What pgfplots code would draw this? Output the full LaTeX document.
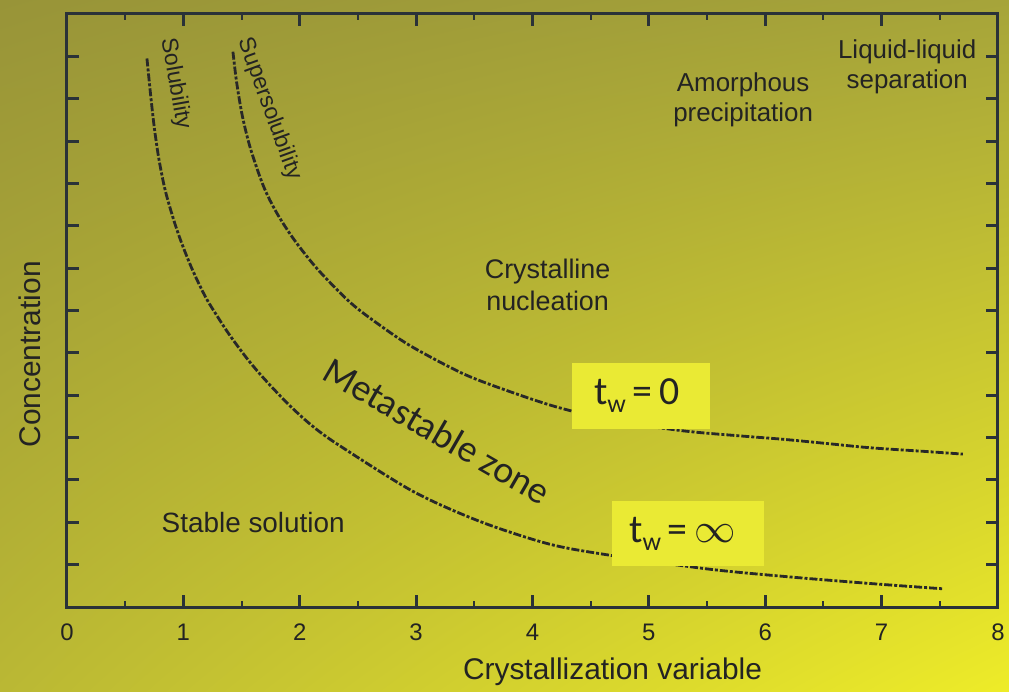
\documentclass[border=0pt]{standalone}
\usepackage{pgfplots}
\pgfplotsset{compat=1.18}
\usetikzlibrary{shadings}
\usepackage{fontspec}
\setmainfont{Liberation Sans}
\newfontfamily\carlito{Carlito}
\definecolor{axc}{RGB}{42,50,56}
\definecolor{curve}{RGB}{40,40,40}
\definecolor{txt}{RGB}{35,35,35}
\definecolor{boxy}{RGB}{234,234,52}
\definecolor{bgul}{RGB}{152,148,56}
\definecolor{bgur}{RGB}{166,164,58}
\definecolor{bgll}{RGB}{186,184,52}
\definecolor{bglr}{RGB}{238,236,40}
\begin{document}
\begin{tikzpicture}
\shade[upper left=bgul, upper right=bgur, lower left=bgll, lower right=bglr] (-33.5bp,-42.5bp) rectangle (471bp,303.5bp);
\begin{axis}[
  at={(0,0)}, anchor=south west,
  scale only axis, width=465.5bp, height=296.5bp,
  xmin=0, xmax=8, ymin=0, ymax=14,
  xtick={0,...,8}, minor xtick={0.5,1.5,...,7.5},
  ytick={1,...,13}, yticklabels={},
  axis line style={axc, line width=1.5bp},
  major tick style={axc, line width=1.5bp},
  minor tick style={axc, line width=1bp},
  major tick length=6bp, minor tick length=3bp,
  tick label style={font=\fontsize{12}{14}\selectfont, text=txt},
  xticklabel style={yshift=-5bp},
  /pgf/number format/assume math mode=true,
  xlabel={Crystallization variable}, ylabel={Concentration},
  label style={font=\fontsize{15}{18}\selectfont, text=txt},
  xlabel style={at={(axis description cs:0.586,-0.11)}, anchor=center},
  ylabel style={at={(axis description cs:-0.0397,0.426)}, anchor=center},
  clip=false,
]
% Solubility curve
\addplot[curve, line width=1.4bp, dash pattern=on 4bp off 1bp on 1.5bp off 1bp, smooth] coordinates {
(0.687,12.95) (0.722,12.00) (0.752,11.28) (0.790,10.57) (0.842,9.86) (0.911,9.19)
(0.984,8.60) (1.078,7.96) (1.190,7.32) (1.297,6.84) (1.400,6.41) (1.546,5.87)
(1.684,5.42) (1.890,4.82) (2.088,4.32) (2.320,3.85) (2.973,2.73) (3.548,2.02)
(4.124,1.50) (4.600,1.25) (5.498,0.90) (6.211,0.71) (6.924,0.55) (7.526,0.43)
};
% Supersolubility curve
\addplot[curve, line width=1.4bp, dash pattern=on 4bp off 1bp on 1.5bp off 1bp, smooth] coordinates {
(1.426,13.11) (1.457,12.40) (1.507,11.59) (1.578,10.81) (1.689,9.93) (1.801,9.31)
(1.952,8.67) (2.158,7.96) (2.442,7.17) (2.715,6.60) (2.973,6.13) (3.402,5.51)
(3.780,5.11) (4.210,4.72) (4.700,4.40) (5.292,4.16) (5.782,4.04) (6.151,3.96)
(6.529,3.86) (6.899,3.76) (7.388,3.67) (7.698,3.61)
};
% annotations
\node[text=txt, font=\fontsize{11.5}{13}\selectfont, rotate=-80] at (axis cs:0.93,12.35) {Solubility};
\node[text=txt, font=\fontsize{11.5}{13}\selectfont, rotate=-70] at (axis cs:1.74,11.76) {Supersolubility};
\node[text=txt, font=\fontsize{13}{15}\selectfont, align=center] at (axis cs:5.81,11.98) {Amorphous\\precipitation};
\node[text=txt, font=\fontsize{13}{15}\selectfont, align=center] at (axis cs:7.22,12.75) {Liquid-liquid\\separation};
\node[text=txt, font=\fontsize{13.5}{16}\selectfont, align=center] at (axis cs:4.13,7.6) {Crystalline\\nucleation};
\node[text=txt, font=\carlito\fontsize{19}{22}\selectfont, rotate=-30] at (axis cs:3.18,4.16) {Metastable zone};
\node[text=txt, font=\fontsize{14}{16}\selectfont] at (axis cs:1.6,2.0) {Stable solution};
\node[fill=boxy, minimum width=69bp, minimum height=33bp, inner sep=0pt, text=txt, font=\carlito\fontsize{20}{22}\selectfont] at (axis cs:4.93,4.99) {\hspace*{-4bp}t\raisebox{-0.45ex}{\fontsize{13}{14}\selectfont w}\,=\,0};
\node[fill=boxy, minimum width=76bp, minimum height=32.5bp, inner sep=0pt, text=txt, font=\carlito\fontsize{20}{22}\selectfont] at (axis cs:5.34,1.73) {\hspace*{-6bp}t\raisebox{-0.45ex}{\fontsize{13}{14}\selectfont w}\,=\,$\infty$};
\end{axis}
\pgfresetboundingbox
\path[use as bounding box] (-33.5bp,-42.5bp) rectangle (471bp,303.5bp);
\end{tikzpicture}
\end{document}
